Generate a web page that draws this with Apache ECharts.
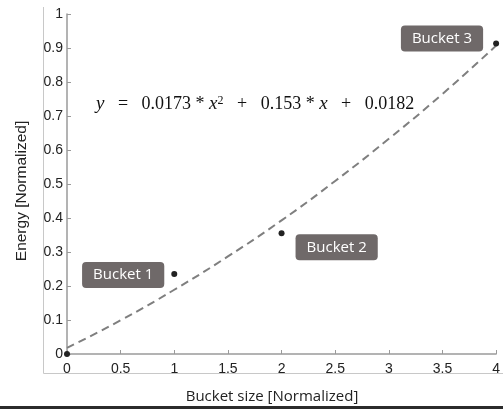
<!DOCTYPE html>
<html>
<head>
<meta charset="utf-8">
<script src="https://cdn.jsdelivr.net/npm/echarts@6/dist/echarts.min.js"></script>
<style>
html,body{margin:0;padding:0;background:#fff;}
#chart{width:503px;height:409px;}
</style>
</head>
<body>
<div id="chart"></div>
<script>
// Data
const bucketNames = ['', 'Bucket 1', 'Bucket 2', 'Bucket 3'];
const bucketSize = [0, 1, 2, 4];
const bucketEnergy = [0, 0.235, 0.355, 0.913];
// Fitted curve
const fitX = [0, 0.5, 1, 1.5, 2, 2.5, 3, 3.5, 4];
const fitY = [0.018, 0.099, 0.189, 0.287, 0.393, 0.509, 0.633, 0.765, 0.907];
const xTitle = 'Bucket size [Normalized]';
const yTitle = 'Energy [Normalized]';

const chart = echarts.init(document.getElementById('chart'), null, {renderer: 'canvas'});

const labelBase = {
  show: true,
  color: '#fff',
  fontFamily: 'Open Sans',
  fontSize: 15,
  backgroundColor: '#6f6969',
  borderRadius: 4,
  padding: [6, 11, 5, 11]
};
const labelPlacement = [
  {show: false},
  Object.assign({}, labelBase, {position: 'left', distance: 7, offset: [0, 1]}),
  Object.assign({}, labelBase, {position: 'right', distance: 11, offset: [0, 14]}),
  Object.assign({}, labelBase, {position: 'left', distance: 10, offset: [0, -5]})
];

const scatterData = bucketSize.map((x, i) => ({
  value: [x, bucketEnergy[i]],
  name: bucketNames[i],
  label: Object.assign({}, labelPlacement[i], {formatter: '{b}'})
}));

const axisLabelStyle = {color: '#222', fontFamily: 'Liberation Sans', fontSize: 14};

chart.setOption({
  animation: false,
  grid: {left: 67, right: 5, top: 14, bottom: 55},
  xAxis: {
    type: 'value', min: 0, max: 4, interval: 0.5,
    splitLine: {show: false},
    axisLine: {lineStyle: {color: '#9a9a9a', width: 1.5}},
    axisTick: {inside: true, length: 4, lineStyle: {color: '#9a9a9a'}},
    axisLabel: Object.assign({margin: 8}, axisLabelStyle)
  },
  yAxis: {
    type: 'value', min: 0, max: 1, interval: 0.1,
    splitLine: {show: false},
    axisLine: {show: true, lineStyle: {color: '#9a9a9a', width: 1.5}},
    axisTick: {show: true, inside: true, length: 4, lineStyle: {color: '#9a9a9a'}},
    axisLabel: Object.assign({margin: 4}, axisLabelStyle)
  },
  series: [
    {
      type: 'line',
      data: fitX.map((x, i) => [x, fitY[i]]),
      smooth: true,
      showSymbol: false,
      lineStyle: {color: '#7f7f7f', width: 2, type: [8, 5]},
      z: 2
    },
    {
      type: 'scatter',
      data: scatterData,
      symbolSize: 6,
      itemStyle: {color: '#222', opacity: 1},
      clip: false,
      z: 5
    }
  ],
  graphic: [
    {type: 'line', shape: {x1: 43.5, y1: 7, x2: 43.5, y2: 373.5}, style: {stroke: '#c8c8c8', lineWidth: 1}, silent: true},
    {type: 'line', shape: {x1: 43.5, y1: 373.5, x2: 503, y2: 373.5}, style: {stroke: '#c8c8c8', lineWidth: 1}, silent: true},
    {
      type: 'text', x: 272, y: 397,
      style: {text: xTitle, fontFamily: 'Open Sans', fontSize: 15, fill: '#222', align: 'center', verticalAlign: 'middle'},
      silent: true
    },
    {type: 'rect', shape: {x: 0, y: 406, width: 503, height: 3}, style: {fill: '#2b2b2b'}, silent: true, z: 10},
    {
      type: 'text', x: 22, y: 191, rotation: Math.PI / 2,
      style: {text: yTitle, fontFamily: 'Liberation Sans', fontSize: 15.5, fill: '#222', align: 'center', verticalAlign: 'middle'},
      silent: true
    },
    {
      type: 'text', x: 96, y: 104,
      style: {
        text: '{v|y}   =   0.0173 * {v|x}{s|2}   +   0.153 * {v|x}   +   0.0182',
        fontFamily: 'Liberation Serif', fontSize: 18, fill: '#111',
        verticalAlign: 'middle',
        rich: {
          v: {fontFamily: 'Liberation Serif', fontStyle: 'italic', fontSize: 19, fill: '#111'},
          s: {fontFamily: 'Liberation Serif', fontSize: 12, verticalAlign: 'top', fill: '#111'}
        }
      },
      silent: true
    }
  ]
});
</script>
</body>
</html>
